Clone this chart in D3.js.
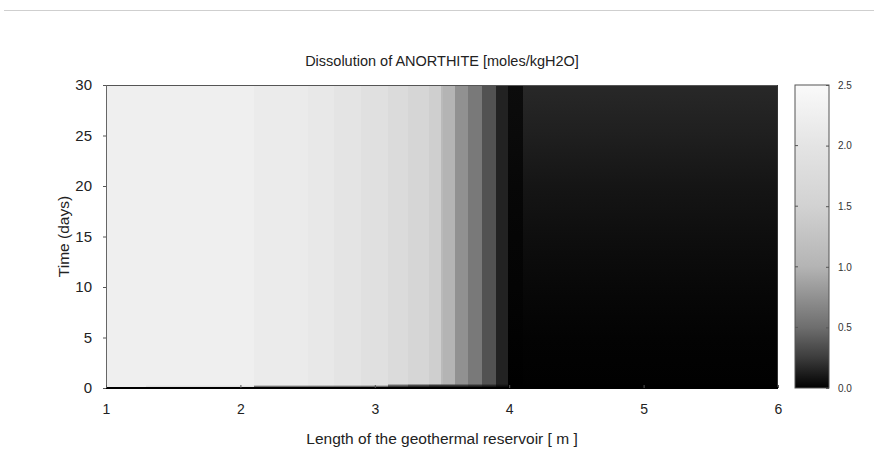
<!DOCTYPE html>
<html><head><meta charset="utf-8">
<script src="https://cdn.jsdelivr.net/npm/d3@7"></script>
<style>body{margin:0;background:#fff}svg{display:block}text{font-family:"Liberation Sans",Arial,sans-serif}</style>
</head><body><svg id="c" width="874" height="459"></svg>
<script>
// ---- data ----
const title = "Dissolution of ANORTHITE [moles/kgH2O]";
const xLabel = "Length of the geothermal reservoir [ m ]";
const yLabel = "Time (days)";
const xTicks = [1, 2, 3, 4, 5, 6];
const yTicks = [0, 5, 10, 15, 20, 25, 30];
const cbTicks = [0.0, 0.5, 1.0, 1.5, 2.0, 2.5];
// column edges along the reservoir (m)
const xEdges = [1.0, 1.3, 2.1, 2.5, 2.7, 2.9, 3.1, 3.25, 3.4, 3.49, 3.51, 3.6, 3.69, 3.8, 3.9, 3.99, 4.1, 4.5, 5.0, 5.5, 6.0];
// time nodes (days)
const timeNodes = [0, 0.3, 0.4, 5, 10, 15, 20, 25, 30];
// dissolved amount per column at each time node
const valuesT0   = [2.2, 1.5, 0, 0, 0, 0, 0, 0, 0, 0, 0, 0, 0, 0, 0, 0, 0, 0, 0, 0];
const valuesT0_3 = [2.25, 2.25, 2.15, 2.1, 2.0, 1.9, 0.6, 0.4, 0.3, 0.3, 0.3, 0.3, 0.25, 0.2, 0.1, 0, 0, 0, 0, 0];
const valuesT0_4 = [2.25, 2.25, 2.15, 2.1, 2.0, 1.9, 1.75, 1.6, 1.45, 1.1, 1.0, 0.75, 0.58, 0.36, 0.14, 0.0, 0.005, 0.005, 0.005, 0.005];
const valuesT5   = [2.25, 2.25, 2.15, 2.1, 2.0, 1.9, 1.75, 1.6, 1.45, 1.1, 1.0, 0.75, 0.58, 0.36, 0.14, 0.01, 0.012, 0.012, 0.012, 0.012];
const valuesT10  = [2.25, 2.25, 2.15, 2.1, 2.0, 1.9, 1.75, 1.6, 1.45, 1.1, 1.0, 0.75, 0.58, 0.36, 0.14, 0.015, 0.034, 0.034, 0.034, 0.034];
const valuesT15  = [2.25, 2.25, 2.15, 2.1, 2.0, 1.9, 1.75, 1.6, 1.45, 1.1, 1.0, 0.75, 0.58, 0.36, 0.14, 0.02, 0.058, 0.058, 0.058, 0.058];
const valuesT20  = [2.25, 2.25, 2.15, 2.1, 2.0, 1.9, 1.75, 1.6, 1.45, 1.1, 1.0, 0.75, 0.58, 0.36, 0.14, 0.03, 0.088, 0.088, 0.088, 0.088];
const valuesT25  = [2.25, 2.25, 2.15, 2.1, 2.0, 1.9, 1.75, 1.6, 1.45, 1.1, 1.0, 0.75, 0.58, 0.36, 0.14, 0.04, 0.128, 0.128, 0.128, 0.128];
const valuesT30  = [2.25, 2.25, 2.15, 2.1, 2.0, 1.9, 1.75, 1.6, 1.45, 1.1, 1.0, 0.75, 0.58, 0.36, 0.14, 0.05, 0.165, 0.165, 0.165, 0.165];
const valueRows = [valuesT0, valuesT0_3, valuesT0_4, valuesT5, valuesT10, valuesT15, valuesT20, valuesT25, valuesT30];
// grey colour map stops
const cmapValues = [0, 0.25, 0.5, 1.0, 1.5, 2.0, 2.5];
const cmapGreys  = [0, 60, 110, 180, 210, 228, 250];

// ---- drawing ----
const svg = d3.select("#c");
const defs = svg.append("defs");
const x = d3.scaleLinear().domain([1, 6]).range([106, 778]);
const y = d3.scaleLinear().domain([0, 30]).range([388, 85]);
const grey = d3.scaleLinear().domain(cmapValues).range(cmapGreys).clamp(true);
const color = v => { const g = Math.round(grey(v)); return `rgb(${g},${g},${g})`; };

// top separator line
svg.append("line").attr("x1", 4).attr("x2", 874).attr("y1", 10.5).attr("y2", 10.5)
  .attr("stroke", "#cfcfcf").attr("stroke-width", 1);

// heatmap columns with vertical gradient through time nodes
const nCols = xEdges.length - 1;
const yTop = y(30), yBot = y(0);
for (let c = 0; c < nCols; c++) {
  const grad = defs.append("linearGradient").attr("id", "col" + c)
    .attr("x1", 0).attr("y1", 0).attr("x2", 0).attr("y2", 1);
  const idx = d3.range(timeNodes.length).reverse();
  idx.forEach(i => {
    grad.append("stop")
      .attr("offset", ((y(timeNodes[i]) - yTop) / (yBot - yTop)).toFixed(5))
      .attr("stop-color", color(valueRows[i][c]));
  });
  svg.append("rect")
    .attr("x", Math.round(x(xEdges[c]))).attr("y", yTop)
    .attr("width", Math.round(x(xEdges[c + 1])) - Math.round(x(xEdges[c])))
    .attr("height", yBot - yTop)
    .attr("shape-rendering", "crispEdges")
    .attr("fill", `url(#col${c})`);
}

// frame
const frame = svg.append("g").attr("fill", "none");
frame.append("line").attr("x1", x(1)).attr("x2", x(6)).attr("y1", yTop + 0.5).attr("y2", yTop + 0.5).attr("stroke", "#555");
frame.append("line").attr("x1", x(1) + 0.5).attr("x2", x(1) + 0.5).attr("y1", yTop).attr("y2", yBot).attr("stroke", "#666");
frame.append("line").attr("x1", x(6) - 0.5).attr("x2", x(6) - 0.5).attr("y1", yTop).attr("y2", yBot).attr("stroke", "#333");
frame.append("line").attr("x1", x(1)).attr("x2", x(6)).attr("y1", yBot).attr("y2", yBot).attr("stroke", "#000").attr("stroke-width", 2);

// axes
const xAxis = svg.append("g").attr("transform", `translate(0,${yBot})`)
  .call(d3.axisBottom(x).tickValues(xTicks).tickFormat(d3.format("d")).tickSize(-3).tickPadding(16));
xAxis.select(".domain").remove();
xAxis.selectAll(".tick line").attr("stroke", "#555");
xAxis.selectAll("text").attr("font-size", 14).attr("fill", "#222");

const yAxis = svg.append("g").attr("transform", `translate(${x(1)},0)`)
  .call(d3.axisLeft(y).tickValues(yTicks).tickFormat(d3.format("d")).tickSize(3).tickPadding(11));
yAxis.select(".domain").remove();
yAxis.selectAll(".tick line").attr("stroke", "#555");
yAxis.selectAll("text").attr("font-size", 15).attr("fill", "#222");

// titles
svg.append("text").attr("x", 442).attr("y", 66).attr("text-anchor", "middle")
  .attr("font-size", 14.5).attr("fill", "#222").text(title);
svg.append("text").attr("x", 442).attr("y", 444).attr("text-anchor", "middle")
  .attr("font-size", 15.5).attr("fill", "#222").text(xLabel);
svg.append("text").attr("transform", `translate(69,${(yTop + yBot) / 2}) rotate(-90)`)
  .attr("text-anchor", "middle").attr("font-size", 15.5).attr("fill", "#222").text(yLabel);

// colour bar
const cb = d3.scaleLinear().domain([0, 2.5]).range([388, 85]);
const cbGrad = defs.append("linearGradient").attr("id", "cbg")
  .attr("x1", 0).attr("y1", 1).attr("x2", 0).attr("y2", 0);
cmapValues.forEach(v => cbGrad.append("stop").attr("offset", v / 2.5).attr("stop-color", color(v)));
const cbX0 = 795, cbX1 = 829;
svg.append("rect").attr("x", cbX0).attr("y", cb(2.5)).attr("width", cbX1 - cbX0)
  .attr("height", cb(0) - cb(2.5)).attr("fill", "url(#cbg)")
  .attr("stroke", "#555").attr("stroke-width", 1);
const cbAxis = svg.append("g").attr("transform", `translate(${cbX1},0)`)
  .call(d3.axisRight(cb).tickValues(cbTicks).tickFormat(d3.format(".1f")).tickSize(-3).tickPadding(9));
cbAxis.select(".domain").remove();
cbAxis.selectAll(".tick line").attr("stroke", "#555");
cbAxis.selectAll("text").attr("font-size", 10).attr("fill", "#333");
svg.append("g").selectAll("line").data(cbTicks.slice(1, -1)).join("line")
  .attr("x1", cbX0).attr("x2", cbX0 + 3).attr("y1", d => cb(d)).attr("y2", d => cb(d))
  .attr("stroke", "#555");
</script></body></html>
